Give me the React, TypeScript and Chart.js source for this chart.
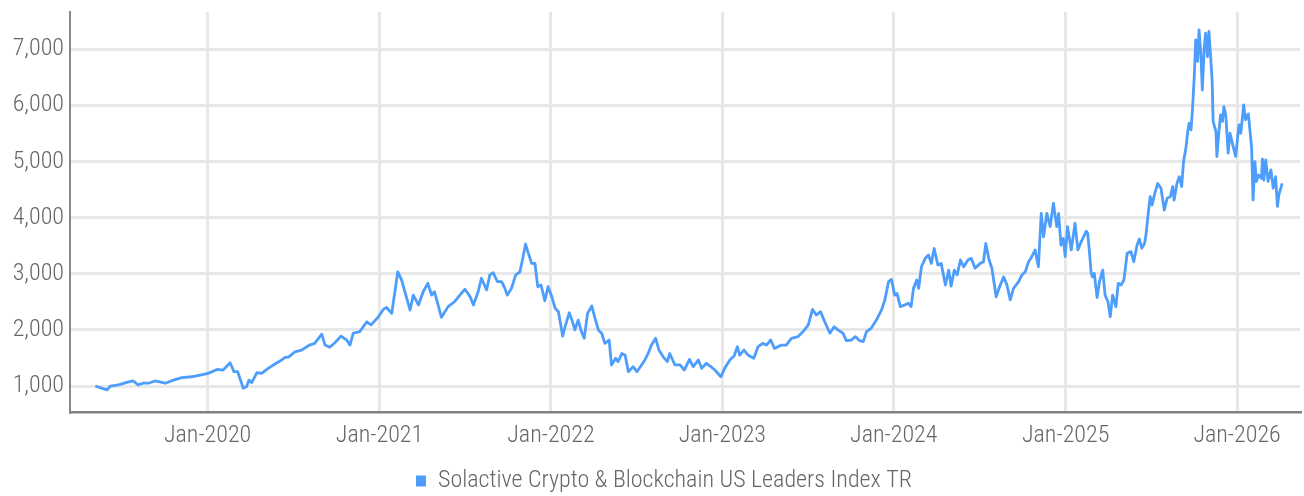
import React, { useEffect, useRef } from 'react';
import { Chart, registerables } from 'chart.js';

Chart.register(...registerables);

const SERIES_LABEL = 'Solactive Crypto & Blockchain US Leaders Index TR';

const dates: string[] = [
  '2019-05-07','2019-05-17','2019-06-01','2019-06-08','2019-06-25','2019-07-13','2019-07-27','2019-08-06','2019-08-17','2019-08-28',
  '2019-09-11','2019-10-03','2019-10-20','2019-11-07','2019-11-28','2019-12-16','2020-01-02','2020-01-21','2020-02-03','2020-02-18',
  '2020-02-26','2020-03-05','2020-03-17','2020-03-24','2020-03-29','2020-04-04','2020-04-15','2020-04-25','2020-05-09','2020-05-20',
  '2020-06-03','2020-06-14','2020-06-22','2020-07-05','2020-07-19','2020-08-05','2020-08-16','2020-08-31','2020-09-07','2020-09-17',
  '2020-09-28','2020-10-11','2020-10-23','2020-10-30','2020-11-06','2020-11-20','2020-12-05','2020-12-14','2020-12-29','2021-01-09',
  '2021-01-16','2021-01-27','2021-02-09','2021-02-17','2021-02-24','2021-03-07','2021-03-14','2021-03-25','2021-04-04','2021-04-14',
  '2021-04-22','2021-04-28','2021-05-13','2021-05-27','2021-06-10','2021-06-21','2021-07-02','2021-07-13','2021-07-20','2021-07-30',
  '2021-08-06','2021-08-17','2021-08-24','2021-08-31','2021-09-09','2021-09-18','2021-09-25','2021-09-30','2021-10-09','2021-10-18',
  '2021-10-27','2021-11-02','2021-11-08','2021-11-14','2021-11-21','2021-11-28','2021-12-04','2021-12-11','2021-12-19','2021-12-26',
  '2022-01-03','2022-01-10','2022-01-17','2022-01-26','2022-01-31','2022-02-09','2022-02-16','2022-02-21','2022-02-28','2022-03-07',
  '2022-03-13','2022-03-20','2022-03-29','2022-04-05','2022-04-12','2022-04-19','2022-04-26','2022-05-05','2022-05-10','2022-05-19',
  '2022-05-24','2022-06-01','2022-06-08','2022-06-15','2022-06-25','2022-07-03','2022-07-13','2022-07-20','2022-07-27','2022-08-03',
  '2022-08-12','2022-08-19','2022-08-28','2022-09-06','2022-09-11','2022-09-22','2022-10-03','2022-10-12','2022-10-23','2022-10-31',
  '2022-11-11','2022-11-18','2022-11-28','2022-12-09','2022-12-16','2022-12-29','2023-01-06','2023-01-17','2023-01-26','2023-02-02',
  '2023-02-07','2023-02-16','2023-02-25','2023-03-09','2023-03-18','2023-03-28','2023-04-05','2023-04-14','2023-04-22','2023-05-07',
  '2023-05-17','2023-05-28','2023-06-11','2023-06-22','2023-07-03','2023-07-12','2023-07-20','2023-07-29','2023-08-07','2023-08-18',
  '2023-08-27','2023-09-04','2023-09-15','2023-09-22','2023-10-03','2023-10-11','2023-10-20','2023-10-28','2023-11-04','2023-11-14',
  '2023-11-25','2023-12-06','2023-12-13','2023-12-21','2023-12-27','2024-01-03','2024-01-08','2024-01-15','2024-01-25','2024-02-01',
  '2024-02-07','2024-02-12','2024-02-19','2024-02-23','2024-02-29','2024-03-08','2024-03-15','2024-03-21','2024-03-27','2024-04-04',
  '2024-04-11','2024-04-20','2024-04-27','2024-05-02','2024-05-09','2024-05-15','2024-05-22','2024-05-29','2024-06-07','2024-06-14',
  '2024-06-22','2024-07-03','2024-07-10','2024-07-15','2024-07-22','2024-07-28','2024-08-06','2024-08-12','2024-08-22','2024-08-29',
  '2024-09-05','2024-09-12','2024-09-23','2024-09-30','2024-10-07','2024-10-14','2024-10-21','2024-10-28','2024-11-04','2024-11-10',
  '2024-11-15','2024-11-22','2024-11-29','2024-12-06','2024-12-13','2024-12-17','2024-12-22','2024-12-27','2024-12-31','2025-01-05',
  '2025-01-13','2025-01-21','2025-01-27','2025-02-03','2025-02-14','2025-02-17','2025-02-21','2025-02-24','2025-02-27','2025-03-03',
  '2025-03-09','2025-03-14','2025-03-21','2025-03-26','2025-04-01','2025-04-06','2025-04-11','2025-04-18','2025-04-23','2025-04-29',
  '2025-05-05','2025-05-12','2025-05-20','2025-05-26','2025-06-02','2025-06-07','2025-06-12','2025-06-18','2025-06-21','2025-06-25',
  '2025-06-30','2025-07-04','2025-07-09','2025-07-16','2025-07-23','2025-07-30','2025-08-05','2025-08-12','2025-08-17','2025-08-20',
  '2025-08-26','2025-08-31','2025-09-05','2025-09-09','2025-09-14','2025-09-18','2025-09-21','2025-09-25','2025-09-28','2025-10-02',
  '2025-10-05','2025-10-09','2025-10-12','2025-10-16','2025-10-19','2025-10-23','2025-10-26','2025-10-30','2025-11-02','2025-11-06',
  '2025-11-09','2025-11-11','2025-11-17','2025-11-19','2025-11-24','2025-11-27','2025-12-01','2025-12-04','2025-12-08','2025-12-13',
  '2025-12-17','2025-12-22','2025-12-29','2026-01-05','2026-01-09','2026-01-15','2026-01-19','2026-01-25','2026-01-29','2026-02-01',
  '2026-02-04','2026-02-08','2026-02-11','2026-02-16','2026-02-22','2026-02-24','2026-02-27','2026-03-03','2026-03-08','2026-03-14',
  '2026-03-19','2026-03-24','2026-03-28','2026-03-31','2026-04-07'
];

const values: number[] = [
  1000, 970, 930, 1000, 1020, 1065, 1090, 1020, 1050, 1050,
  1090, 1050, 1105, 1150, 1165, 1195, 1225, 1295, 1285, 1415,
  1255, 1255, 960, 990, 1105, 1060, 1240, 1225, 1315, 1375,
  1445, 1510, 1520, 1610, 1640, 1730, 1760, 1925, 1730, 1690,
  1770, 1890, 1820, 1730, 1940, 1970, 2145, 2090, 2225, 2365,
  2400, 2295, 3035, 2890, 2680, 2355, 2620, 2445, 2680, 2830,
  2620, 2680, 2225, 2415, 2505, 2620, 2725, 2590, 2445, 2680,
  2920, 2710, 2980, 3020, 2860, 2860, 2740, 2620, 2740, 2980,
  3035, 3275, 3530, 3365, 3185, 3185, 2770, 2800, 2520, 2770,
  2590, 2385, 2325, 1890, 2055, 2305, 2145, 2000, 2175, 1970,
  1850, 2295, 2425, 2205, 2000, 1940, 1760, 1820, 1375, 1495,
  1435, 1580, 1550, 1255, 1345, 1255, 1375, 1465, 1580, 1730,
  1850, 1640, 1520, 1435, 1580, 1375, 1375, 1285, 1475, 1345,
  1465, 1315, 1405, 1335, 1285, 1165, 1315, 1465, 1535, 1700,
  1550, 1640, 1550, 1495, 1700, 1760, 1730, 1820, 1670, 1730,
  1730, 1850, 1880, 1970, 2090, 2365, 2265, 2325, 2145, 1940,
  2055, 2000, 1940, 1810, 1820, 1880, 1810, 1790, 1970, 2030,
  2175, 2355, 2535, 2860, 2900, 2620, 2650, 2415, 2445, 2475,
  2415, 2740, 2890, 2740, 3125, 3275, 3335, 3185, 3450, 3155,
  3185, 2800, 3065, 2780, 3065, 2980, 3245, 3125, 3245, 3275,
  3100, 3185, 3215, 3540, 3245, 3100, 2590, 2740, 2945, 2800,
  2535, 2740, 2860, 2980, 3035, 3215, 3305, 3425, 3125, 4075,
  3660, 4075, 3840, 4255, 3840, 4075, 3510, 3630, 3305, 3840,
  3425, 3900, 3425, 3570, 3760, 3720, 3365, 3035, 2945, 3005,
  2575, 2860, 3065, 2620, 2505, 2235, 2620, 2415, 2830, 2800,
  2890, 3365, 3395, 3215, 3510, 3620, 3455, 3540, 3690, 4020,
  4375, 4225, 4405, 4610, 4525, 4135, 4345, 4375, 4555, 4315,
  4610, 4730, 4555, 5000, 5235, 5535, 5685, 5565, 5920, 6545,
  7170, 6785, 7345, 6900, 6275, 7020, 7290, 6870, 7320, 6840,
  6425, 5715, 5535, 5090, 5595, 5830, 5715, 5980, 5830, 5150,
  5505, 5325, 5090, 5655, 5505, 6010, 5745, 5850, 5505, 5235,
  4315, 5000, 4645, 4760, 4700, 5045, 4670, 5030, 4645, 4850,
  4525, 4730, 4200, 4405, 4610
];

const xTickDates: string[] = ['2020-01-01', '2021-01-01', '2022-01-01', '2023-01-01', '2024-01-01', '2025-01-01', '2026-01-01'];
const yTickValues: number[] = [1000, 2000, 3000, 4000, 5000, 6000, 7000];
const MONTHS: string[] = ['Jan', 'Feb', 'Mar', 'Apr', 'May', 'Jun', 'Jul', 'Aug', 'Sep', 'Oct', 'Nov', 'Dec'];

const X_MIN = '2019-03-14';
const X_MAX = '2026-05-15';
const Y_MIN = 537;
const Y_MAX = 7665;

const LINE_COLOR = '#4d9dfc';
const TEXT_COLOR = '#666666';
const GRID_COLOR = '#e8e8e8';
const FONT_FAMILY = "'Roboto Condensed', 'Liberation Sans Narrow', Roboto, sans-serif";

const toTime = (d: string) => Date.parse(d + 'T00:00:00Z');

const legendNudge = {
  id: 'legendNudge',
  afterLayout(chart: any) {
    const l = chart.legend;
    if (l) {
      l.top += 7;
      l.bottom += 7;
      l.left += 14;
      l.right += 14;
    }
  },
};

export default function App() {
  const canvasRef = useRef<HTMLCanvasElement | null>(null);

  useEffect(() => {
    document.body.style.margin = '0';
    const canvas = canvasRef.current;
    if (!canvas) return;

    const points = dates.map((d, i) => ({ x: toTime(d), y: values[i] }));

    const chart = new Chart(canvas, {
      type: 'line',
      data: {
        datasets: [
          {
            label: SERIES_LABEL,
            data: points,
            borderColor: LINE_COLOR,
            backgroundColor: LINE_COLOR,
            borderWidth: 2.8,
            pointRadius: 0,
            tension: 0,
            borderJoinStyle: 'round',
            fill: false,
          },
        ],
      },
      plugins: [legendNudge],
      options: {
        responsive: false,
        animation: false,
        devicePixelRatio: 1,
        layout: { padding: { left: 0, right: 4, top: 12, bottom: 0 } },
        scales: {
          x: {
            type: 'linear',
            min: toTime(X_MIN),
            max: toTime(X_MAX),
            afterBuildTicks: (axis: any) => {
              axis.ticks = xTickDates.map((d) => ({ value: toTime(d) }));
            },
            afterFit: (s: any) => {
              s.height = 40;
              s.paddingLeft = 0;
              s.paddingRight = 0;
            },
            ticks: {
              autoSkip: false,
              maxRotation: 0,
              padding: 10,
              color: TEXT_COLOR,
              font: { family: FONT_FAMILY, size: 24, weight: '300' },
              callback: (value: any) => {
                const dt = new Date(Number(value));
                return `${MONTHS[dt.getUTCMonth()]}-${dt.getUTCFullYear()}`;
              },
            },
            grid: { color: GRID_COLOR, lineWidth: 3, drawTicks: false },
            border: { display: true, color: '#808080', width: 2.5 },
          },
          y: {
            type: 'linear',
            min: Y_MIN,
            max: Y_MAX,
            afterBuildTicks: (axis: any) => {
              axis.ticks = yTickValues.map((v) => ({ value: v }));
            },
            afterFit: (s: any) => {
              s.width = 70;
              s.paddingTop = 0;
              s.paddingBottom = 0;
            },
            ticks: {
              padding: 6,
              color: TEXT_COLOR,
              font: { family: FONT_FAMILY, size: 24, weight: '300' },
              callback: (value: any) => Number(value).toLocaleString('en-US'),
            },
            grid: { color: GRID_COLOR, lineWidth: 3, drawTicks: false },
            border: { display: true, color: '#888888', width: 2 },
          },
        },
        plugins: {
          tooltip: { enabled: false },
          legend: {
            display: true,
            position: 'bottom',
            labels: {
              boxWidth: 10,
              boxHeight: 11,
              padding: 10,
              color: TEXT_COLOR,
              font: { family: FONT_FAMILY, size: 24, weight: '300' },
              generateLabels: (ch: any) => {
                const base = (Chart as any).defaults.plugins.legend.labels.generateLabels(ch);
                return base.map((it: any) => ({ ...it, lineWidth: 0, strokeStyle: 'rgba(0,0,0,0)' }));
              },
            },
          },
        },
      } as any,
    });

    return () => {
      chart.destroy();
    };
  }, []);

  return (
    <div style={{ width: 1304, height: 496 }}>
      <canvas ref={canvasRef} width={1304} height={496} />
    </div>
  );
}
